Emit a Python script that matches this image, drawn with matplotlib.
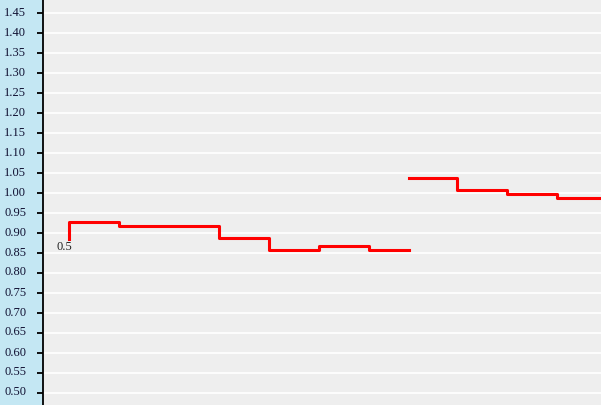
import matplotlib.pyplot as plt
import matplotlib.transforms as mtransforms
import numpy as np

# y axis ticks
y_ticks = [0.50, 0.55, 0.60, 0.65, 0.70, 0.75, 0.80, 0.85, 0.90, 0.95,
           1.00, 1.05, 1.10, 1.15, 1.20, 1.25, 1.30, 1.35, 1.40, 1.45]

# first step segment (x = change points, values hold until next x)
seg1_x = [0.52, 0.52, 1.52, 3.52, 4.52, 5.52, 6.52, 7.32]
seg1_y = [0.885, 0.928, 0.918, 0.888, 0.858, 0.868, 0.858, 0.858]

# second step segment after the gap
seg2_x = [7.32, 8.28, 9.28, 10.28, 11.4]
seg2_y = [1.038, 1.008, 0.998, 0.988, 0.988]

start_label = "0.5"

fig = plt.figure(figsize=(6.01, 4.06), dpi=100)
fig.patch.set_facecolor('#C4E7F3')
ax = fig.add_axes([43 / 601, 0, 1 - 43 / 601, 1])
ax.set_facecolor('#EEEEEE')

ax.set_xlim(0, 11.16)
ax.set_ylim(0.47, 1.485)

# gridlines
for v in y_ticks:
    ax.axhline(v, color='white', lw=1.2, zorder=1)

ax.plot(seg1_x, seg1_y, drawstyle='steps-post', color='#FF0000', lw=2.2, zorder=3)
ax.plot(seg2_x, seg2_y, drawstyle='steps-post', color='#FF0000', lw=2.2, zorder=3)

ax.annotate(start_label, (seg1_x[0], seg1_y[0]), xytext=(-3, -5), textcoords='offset points',
            ha='center', va='center', fontsize=9, family='Liberation Serif', color='#222222')

for s in ['top', 'right', 'bottom']:
    ax.spines[s].set_visible(False)
ax.spines['left'].set_color('black')
ax.spines['left'].set_linewidth(1.3)

ax.set_xticks([])
ax.set_yticks(y_ticks)
ax.set_yticklabels([f"{v:.2f}" for v in y_ticks], family='Liberation Serif',
                   fontsize=9, color='#111133')
ax.tick_params(axis='y', direction='out', length=4, width=1.3, pad=8)

offset = mtransforms.ScaledTranslation(0, 3 / 100, fig.dpi_scale_trans)
for lbl in ax.get_yticklabels():
    lbl.set_transform(lbl.get_transform() + offset)

fig.savefig('out.png', dpi=100, facecolor=fig.get_facecolor())
